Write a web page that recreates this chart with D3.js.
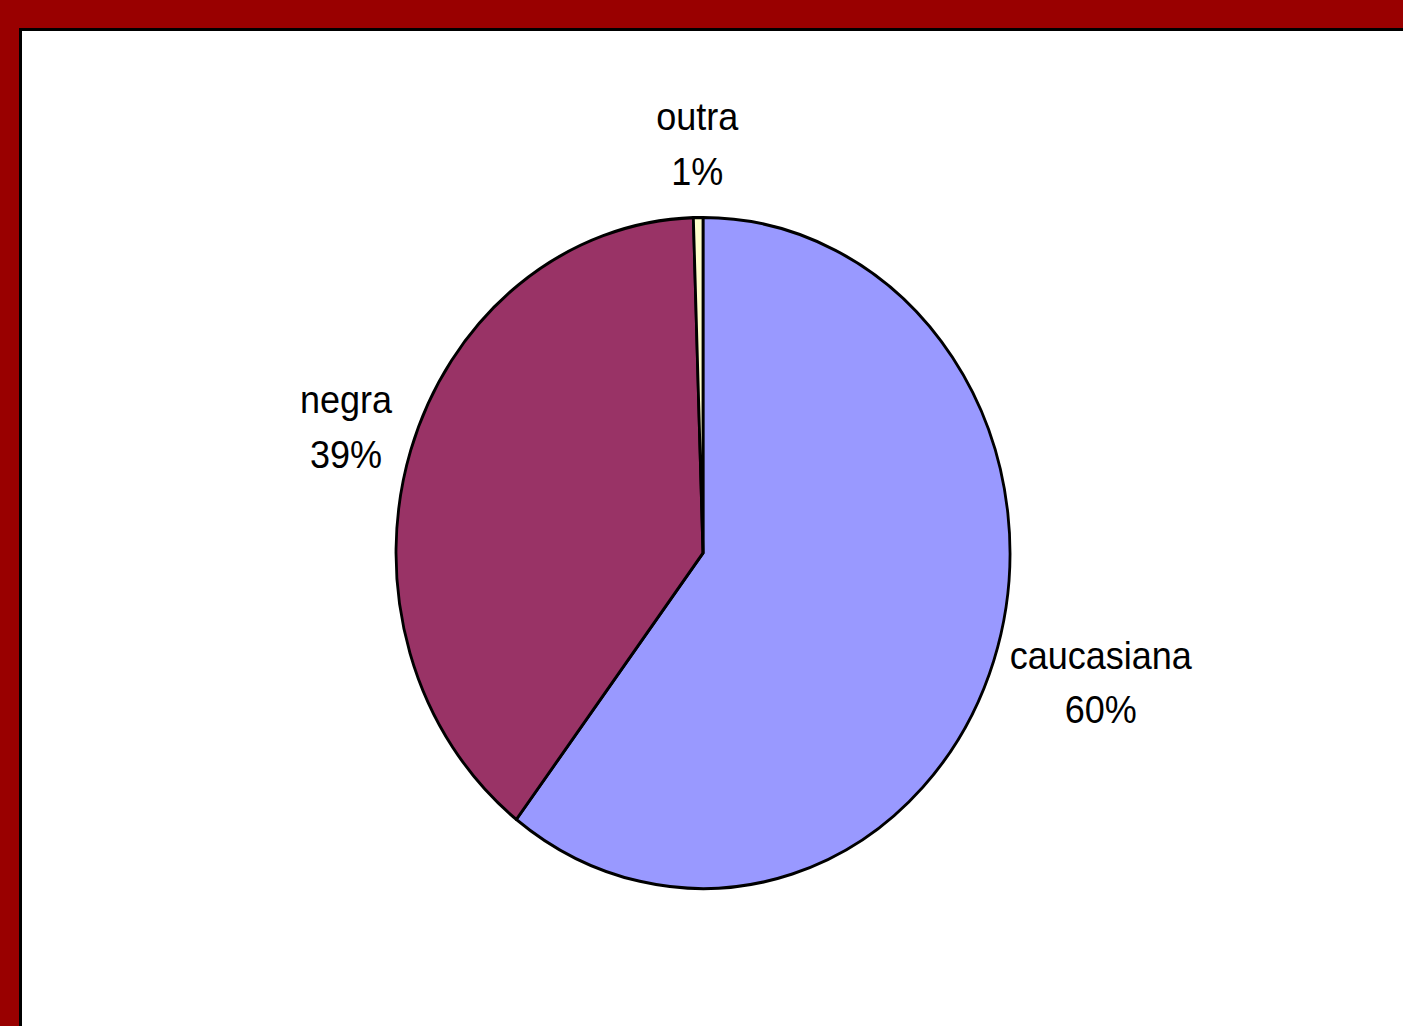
<!DOCTYPE html>
<html>
<head>
<meta charset="utf-8">
<script src="https://cdn.jsdelivr.net/npm/d3@7"></script>
<style>
  body { margin: 0; background: #990000; }
  svg { display: block; }
  text { font-family: "Liberation Sans", Arial, sans-serif; }
</style>
</head>
<body>
<div id="chart"></div>
<script>
// data
const categories = ["caucasiana", "negra", "outra"];
const values = [60.4, 39.1, 0.5];
const colors = ["#9999FF", "#993366", "#FFFFCC"];

const width = 1403;
const height = 1026;

const svg = d3.select("#chart").append("svg")
    .attr("width", width)
    .attr("height", height);

svg.append("rect")
    .attr("width", width)
    .attr("height", height)
    .attr("fill", "#990000");

// plot area
svg.append("rect")
    .attr("x", 20.5)
    .attr("y", 29.5)
    .attr("width", width + 20)
    .attr("height", height + 20)
    .attr("fill", "#ffffff")
    .attr("stroke", "#000000")
    .attr("stroke-width", 3);

const r = 307;
const stretchY = 1.093; // the original pie is a bit taller than wide

const pie = d3.pie().sort(null).value(d => d.value);
const arc = d3.arc().innerRadius(0).outerRadius(r);

const data = categories.map((c, i) => ({ name: c, value: values[i], color: colors[i] }));
const total = d3.sum(values);
const arcs = pie(data);

const g = svg.append("g")
    .attr("transform", `translate(703,553) scale(1,${stretchY})`);

g.selectAll("path")
    .data(arcs)
    .enter().append("path")
    .attr("d", arc)
    .attr("fill", d => d.data.color)
    .attr("stroke", "#000")
    .attr("stroke-width", 2.8)
    .attr("stroke-linejoin", "round");

// labels, outside end
const gap = 22;
const boxH = 88;
const lbl = g.selectAll("text.lbl")
    .data(arcs)
    .enter().append("text")
    .attr("class", "lbl")
    .attr("text-anchor", "middle")
    .attr("font-size", 36)
    .attr("fill", "#000");

lbl.append("tspan").attr("class", "l1").text(d => d.data.name);
lbl.append("tspan").attr("class", "l2").text(d => Math.round(d.data.value / total * 100) + "%");

lbl.each(function(d) {
    const t = d3.select(this);
    const w = d3.max(t.selectAll("tspan").nodes(), n => n.getComputedTextLength());
    const a = (d.startAngle + d.endAngle) / 2;
    const dx = Math.sin(a), dy = -Math.cos(a);
    const cx = (r + gap) * dx + dx * w / 2;
    const cy = (r + gap) * dy + dy * boxH / 2;
    t.select(".l1").attr("x", cx).attr("y", cy - 14);
    t.select(".l2").attr("x", cx).attr("y", cy + 36);
});
</script>
</body>
</html>
